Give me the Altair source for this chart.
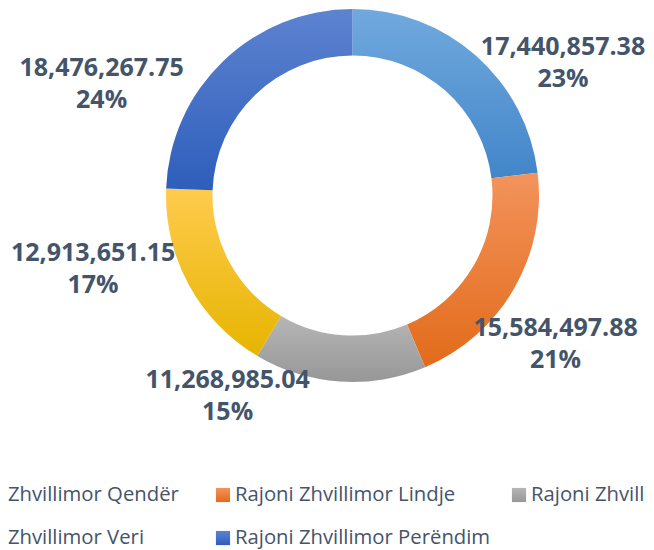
import math
import altair as alt
import pandas as pd

# ---- data -------------------------------------------------------------
categories = [
    "Rajoni Zhvillimor Qendër",
    "Rajoni Zhvillimor Lindje",
    "Rajoni Zhvillimor Jug",
    "Rajoni Zhvillimor Veri",
    "Rajoni Zhvillimor Perëndim",
]
values = [17440857.38, 15584497.88, 11268985.04, 12913651.15, 18476267.75]

# ---- layout (manual data-label placement, legend grid) -----------------
label_angle = [58.1, 126.3, 211.8, 253.9, 293.7]   # degrees clockwise from 12 o'clock
label_radius = [248, 252, 237, 270, 274]            # px from the centre
legend_col = [0, 1, 2, 0, 1]
legend_row = [0, 0, 0, 1, 1]

# ---- styles -----------------------------------------------------------
grad_top = ["#71A9DE", "#F3935C", "#B6B6B6", "#FFCB4E", "#5D83D0"]
grad_bottom = ["#4286C9", "#E26B1A", "#979797", "#E6B500", "#2E5EBB"]
text_color = "#44546A"

df = pd.DataFrame({
    "cat": categories,
    "value": values,
    "order": list(range(len(categories))),
    "lab_angle": label_angle,
    "lab_r": label_radius,
    "col": legend_col,
    "row": legend_row,
})


def gradient(top, bot):
    return alt.Gradient(
        gradient="linear",
        stops=[alt.GradientStop(color=top, offset=0), alt.GradientStop(color=bot, offset=1)],
        x1=0, x2=0, y1=0, y2=1,
    )


base = (
    alt.Chart(df)
    .transform_joinaggregate(total="sum(value)")
    .transform_window(cum="sum(value)", sort=[alt.SortField("order")], frame=[None, 0])
    .transform_calculate(
        t0="(datum.cum - datum.value) / datum.total",
        t1="datum.cum / datum.total",
    )
)

theta_scale = alt.Scale(domain=[0, 1], range=[0, 2 * math.pi])
leg_x = alt.X("col:Q", scale=alt.Scale(domain=[0, 1, 2], range=[-127, 164, 460]), axis=None)
leg_y = alt.Y("row:Q", scale=alt.Scale(domain=[0, 1], range=[487, 530]), axis=None)

arc_layers = []
square_layers = []
for c, top, bot in zip(categories, grad_top, grad_bottom):
    arc_layers.append(
        base.transform_filter(alt.datum.cat == c)
        .mark_arc(innerRadius=140, outerRadius=186.5, color=gradient(top, bot))
        .encode(theta=alt.Theta("t0:Q", scale=theta_scale), theta2="t1:Q")
    )
    square_layers.append(
        alt.Chart(df)
        .transform_filter(alt.datum.cat == c)
        .mark_square(size=200, opacity=1, color=gradient(top, bot))
        .encode(x=leg_x, y=leg_y)
    )

labels = (
    base.transform_calculate(
        label="format(datum.value, ',.2f') + '\\n' + format(datum.value / datum.total, '.0%')"
    )
    .mark_text(
        font="Open Sans",
        fontSize=25,
        fontWeight="bold",
        color=text_color,
        lineBreak="\n",
        lineHeight=32,
        align="center",
        baseline="middle",
        dy=-17,
    )
    .encode(
        theta=alt.Theta("lab_angle:Q", scale=alt.Scale(domain=[0, 360], range=[0, 2 * math.pi])),
        radius=alt.Radius("lab_r:Q", scale=alt.Scale(type="linear", domain=[0, 300], range=[0, 300])),
        text="label:N",
    )
)

legend_text = alt.Chart(df).mark_text(
    align="left", baseline="middle", dx=12, font="Open Sans", fontSize=20.3, color=text_color
).encode(x=leg_x, y=leg_y, text="cat:N")

chart = (
    alt.layer(*arc_layers, labels, *square_layers, legend_text)
    .resolve_scale(theta="independent", radius="independent")
    .properties(
        width=587,
        height=375,
        padding={"left": 51, "top": 0, "right": 0, "bottom": 167},
        autosize=alt.AutoSizeParams(type="none"),
        background="white",
    )
    .configure_view(stroke=None)
)

chart.save("out.html", embed_options={"renderer": "svg", "actions": False})
